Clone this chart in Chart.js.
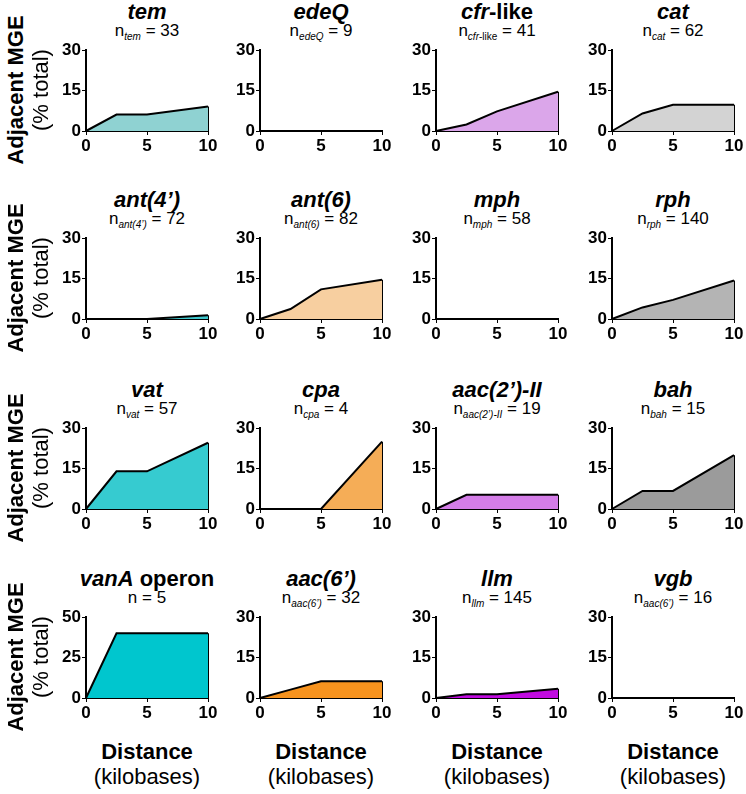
<!DOCTYPE html>
<html>
<head>
<meta charset="utf-8">
<script src="https://cdn.jsdelivr.net/npm/chart.js@4.4.0/dist/chart.umd.min.js"></script>
<style>
    body { margin: 0; background: #fff; font-family: 'Liberation Sans', Arial, sans-serif; color: #000; }
    #page { position: relative; width: 746px; height: 794px; overflow: hidden; }
    canvas { position: absolute; }
    .title { position: absolute; transform: translate(-50%, -50%); white-space: nowrap;
             font-size: 22px; font-weight: bold; }
    .title i { font-style: italic; }
    .count { position: absolute; transform: translate(-50%, -50%); white-space: nowrap; font-size: 17px; }
    .count sub { font-size: 10px; font-style: italic; vertical-align: -4px; }
    .count sub span { font-style: normal; }
    .ylab { position: absolute; width: 200px; text-align: center; white-space: nowrap;
            transform: translate(-50%, -50%) rotate(-90deg); font-size: 22px; }
    .xlab { position: absolute; transform: translate(-50%, -50%); white-space: nowrap; font-size: 22px; }
</style>
</head>
<body>
<div id="page"></div>
<script>
// Distance from the resistance gene (kilobases)
const distanceKb = [0, 2.5, 5, 10];

// Adjacent MGE (% of total) at each distance, one array per gene
const temPct = [0, 6.1, 6.1, 9.1];
const edeqPct = [0, 0, 0, 0];
const cfrLikePct = [0, 2.4, 7.3, 14.6];
const catPct = [0, 6.5, 9.7, 9.7];
const ant4Pct = [0, 0, 0, 1.4];
const ant6Pct = [0, 3.7, 11.0, 14.6];
const mphPct = [0, 0, 0, 0];
const rphPct = [0, 4.3, 7.1, 14.3];
const vatPct = [0, 14.0, 14.0, 24.6];
const cpaPct = [0, 0, 0, 25];
const aac2Pct = [0, 5.3, 5.3, 5.3];
const bahPct = [0, 6.7, 6.7, 20];
const vanAPct = [0, 40, 40, 40];
const aac6Pct = [0, 3.1, 6.25, 6.25];
const llmPct = [0, 1.4, 1.4, 3.4];
const vgbPct = [0, 0, 0, 0];

// Panel titles (gene names) and sample sizes
const geneTitles = ['<i>tem</i>', '<i>edeQ</i>', '<i>cfr</i>-like', '<i>cat</i>',
    '<i>ant(4’)</i>', '<i>ant(6)</i>', '<i>mph</i>', '<i>rph</i>',
    '<i>vat</i>', '<i>cpa</i>', '<i>aac(2’)-II</i>', '<i>bah</i>',
    '<i>vanA</i> operon', '<i>aac(6’)</i>', '<i>llm</i>', '<i>vgb</i>'];
const countSubscripts = ['tem', 'edeQ', 'cfr<span>-like</span>', 'cat',
    'ant(4’)', 'ant(6)', 'mph', 'rph',
    'vat', 'cpa', 'aac(2’)-II', 'bah',
    '', 'aac(6’)', 'llm', 'aac(6’)'];
const sampleCounts = [33, 9, 41, 62, 72, 82, 58, 140, 57, 4, 19, 15, 5, 32, 145, 16];

// Y axis range per panel
const yMaxes = [30, 30, 30, 30, 30, 30, 30, 30, 30, 30, 30, 30, 50, 30, 30, 30];
const yTickSteps = [15, 15, 15, 15, 15, 15, 15, 15, 15, 15, 15, 15, 25, 15, 15, 15];

const panelValues = [temPct, edeqPct, cfrLikePct, catPct, ant4Pct, ant6Pct, mphPct, rphPct,
    vatPct, cpaPct, aac2Pct, bahPct, vanAPct, aac6Pct, llmPct, vgbPct];

const fillColors = ['#8fd2d2', '#ffffff', '#dba6ea', '#d3d3d3',
    '#3ec6cc', '#f7cfa0', '#ffffff', '#b4b4b4',
    '#36cbd0', '#f5ad57', '#d47de8', '#9b9b9b',
    '#00c6ce', '#f7931e', '#c10be0', '#ffffff'];

// Layout of the 4x4 grid (plot area left edges / top edges)
const colX = [86, 260, 436, 612];
const rowTop = [49, 237, 427, 616];
const plotW = 122;
const plotH = 82;
const padL = 4, padT = 10, padR = 12, yAxisW = 30, xAxisH = 26;

Chart.defaults.font.family = "'Liberation Sans', Arial, sans-serif";
Chart.defaults.color = '#000';

const page = document.getElementById('page');

function addDiv(cls, html, x, y) {
    const d = document.createElement('div');
    d.className = cls;
    d.innerHTML = html;
    d.style.left = x + 'px';
    d.style.top = y + 'px';
    page.appendChild(d);
    return d;
}

panelValues.forEach((vals, i) => {
    const row = Math.floor(i / 4);
    const col = i % 4;
    const cx = colX[col] + plotW / 2;

    addDiv('title', geneTitles[i], cx, rowTop[row] - 37);
    const sub = countSubscripts[i] ? '<sub>' + countSubscripts[i] + '</sub>' : '';
    addDiv('count', 'n' + sub + ' = ' + sampleCounts[i], cx, rowTop[row] - 18);

    const canvas = document.createElement('canvas');
    const w = padL + yAxisW + plotW + padR;
    const h = padT + plotH + xAxisH;
    canvas.width = w;
    canvas.height = h;
    canvas.style.width = w + 'px';
    canvas.style.height = h + 'px';
    canvas.style.left = (colX[col] - yAxisW - padL) + 'px';
    canvas.style.top = (rowTop[row] - padT) + 'px';
    page.appendChild(canvas);

    const last = vals[vals.length - 1];
    const tickFont = { size: 17, weight: 'bold' };

    new Chart(canvas.getContext('2d'), {
        type: 'line',
        data: {
            datasets: [{
                data: distanceKb.map((d, k) => ({ x: d, y: vals[k] })),
                fill: 'origin',
                backgroundColor: fillColors[i],
                borderColor: '#000',
                borderWidth: 2,
                pointRadius: 0,
                tension: 0,
                clip: false
            }, {
                // right edge of the filled area
                data: [{ x: distanceKb[distanceKb.length - 1], y: 0 }, { x: distanceKb[distanceKb.length - 1], y: last }],
                fill: false,
                borderColor: '#000',
                borderWidth: 2,
                pointRadius: 0,
                clip: false
            }]
        },
        options: {
            responsive: false,
            animation: false,
            events: [],
            devicePixelRatio: 1,
            layout: { padding: { left: padL, top: padT, right: padR, bottom: 0 } },
            plugins: { legend: { display: false }, tooltip: { enabled: false } },
            scales: {
                x: {
                    type: 'linear', min: 0, max: 10,
                    ticks: { stepSize: 5, font: tickFont, color: '#000', padding: 1, maxRotation: 0 },
                    grid: { drawOnChartArea: false, tickLength: 4, color: '#000', lineWidth: 1 },
                    border: { color: '#000', width: 2 },
                    afterFit: s => { s.height = xAxisH; }
                },
                y: {
                    min: 0, max: yMaxes[i],
                    ticks: { stepSize: yTickSteps[i], font: tickFont, color: '#000', padding: 1 },
                    grid: { drawOnChartArea: false, tickLength: 4, color: '#000', lineWidth: 1 },
                    border: { color: '#000', width: 2 },
                    afterFit: s => { s.width = yAxisW; }
                }
            }
        }
    });
});

// Shared axis titles
rowTop.forEach(top => {
    const mid = top + plotH / 2;
    addDiv('ylab', '<b>Adjacent MGE</b>', 16, mid);
    addDiv('ylab', '(% total)', 41, mid);
});
colX.forEach(x => {
    const cx = x + plotW / 2;
    addDiv('xlab', '<b>Distance</b>', cx, 752);
    addDiv('xlab', '(kilobases)', cx, 777);
});
</script>
</body>
</html>
